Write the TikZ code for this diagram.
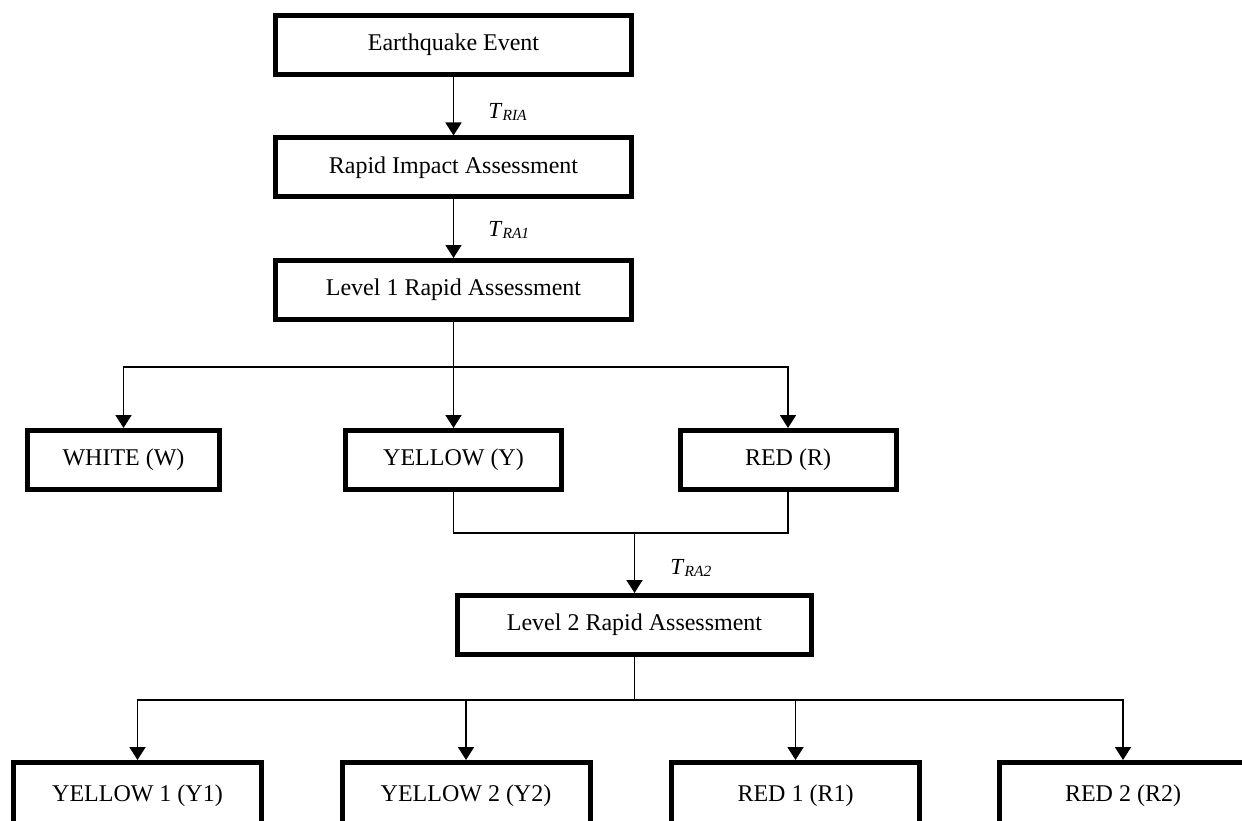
\documentclass[tikz,border=0pt]{standalone}
\usepackage{fontspec}
\setmainfont{Liberation Serif}
\usetikzlibrary{arrows.meta}
\tikzset{
  box/.style={draw, line width=5pt, rectangle, inner sep=0pt, minimum height=59pt,
    font=\fontsize{24}{28}\selectfont},
  wide/.style={box, minimum width=356pt},
  mid/.style={box, minimum width=216pt},
  low/.style={box, minimum width=248pt, minimum height=67pt},
  conn/.style={line width=1.8pt},
  arr/.style={conn, -{Triangle[length=13pt,width=16pt]}},
  lab/.style={anchor=west, inner sep=0pt},
}
\newcommand{\tlab}[1]{{\fontsize{23}{26}\selectfont\textit{T}}\raisebox{-0.3ex}{\fontsize{15.5}{18}\selectfont\textit{#1}}}
\begin{document}
\begin{tikzpicture}[x=1pt, y=-1pt]
\useasboundingbox (0,0) rectangle (1242,821);
\node[wide] (ev)  at (453.5,45)  {Earthquake Event};
\node[wide] (ria) at (453.5,167.5) {Rapid Impact Assessment};
\node[wide] (l1)  at (453.5,290) {Level 1 Rapid Assessment};
\node[box, minimum width=192pt] (W) at (123.5,460) {WHITE (W)};
\node[mid] (Y) at (453.5,460) {YELLOW (Y)};
\node[mid] (R) at (788,460) {RED (R)};
\node[wide, minimum width=354pt] (l2) at (634.5,625) {Level 2 Rapid Assessment};
\node[low] (Y1) at (137.5,796) {YELLOW 1 (Y1)};
\node[low] (Y2) at (466,796) {YELLOW 2 (Y2)};
\node[low] (R1) at (795.5,796) {RED 1 (R1)};
\node[low] (R2) at (1123,796) {RED 2 (R2)};

\coordinate (f1) at (453.5,367);
\coordinate (m) at (634.5,533);
\coordinate (f2) at (634.5,700);

\draw[arr] (ev) -- node[lab, pos=0.6, xshift=34pt] {\tlab{RIA}} (ria);
\draw[arr] (ria) -- node[lab, pos=0.52, xshift=34pt] {\tlab{RA1}} (l1);
\draw[conn] (l1) -- (f1);
\draw[arr] (f1) -| (W);
\draw[arr] (f1) -- (Y);
\draw[arr] (f1) -| (R);
\draw[conn] (Y) |- (m) -| (R);
\draw[arr] (m) -- node[lab, pos=0.58, xshift=35pt] {\tlab{RA2}} (l2);
\draw[conn] (l2) -- (f2);
\draw[arr] (f2) -| (Y1);
\draw[arr] (f2) -| (Y2);
\draw[arr] (f2) -| (R1);
\draw[arr] (f2) -| (R2);
\end{tikzpicture}
\end{document}
